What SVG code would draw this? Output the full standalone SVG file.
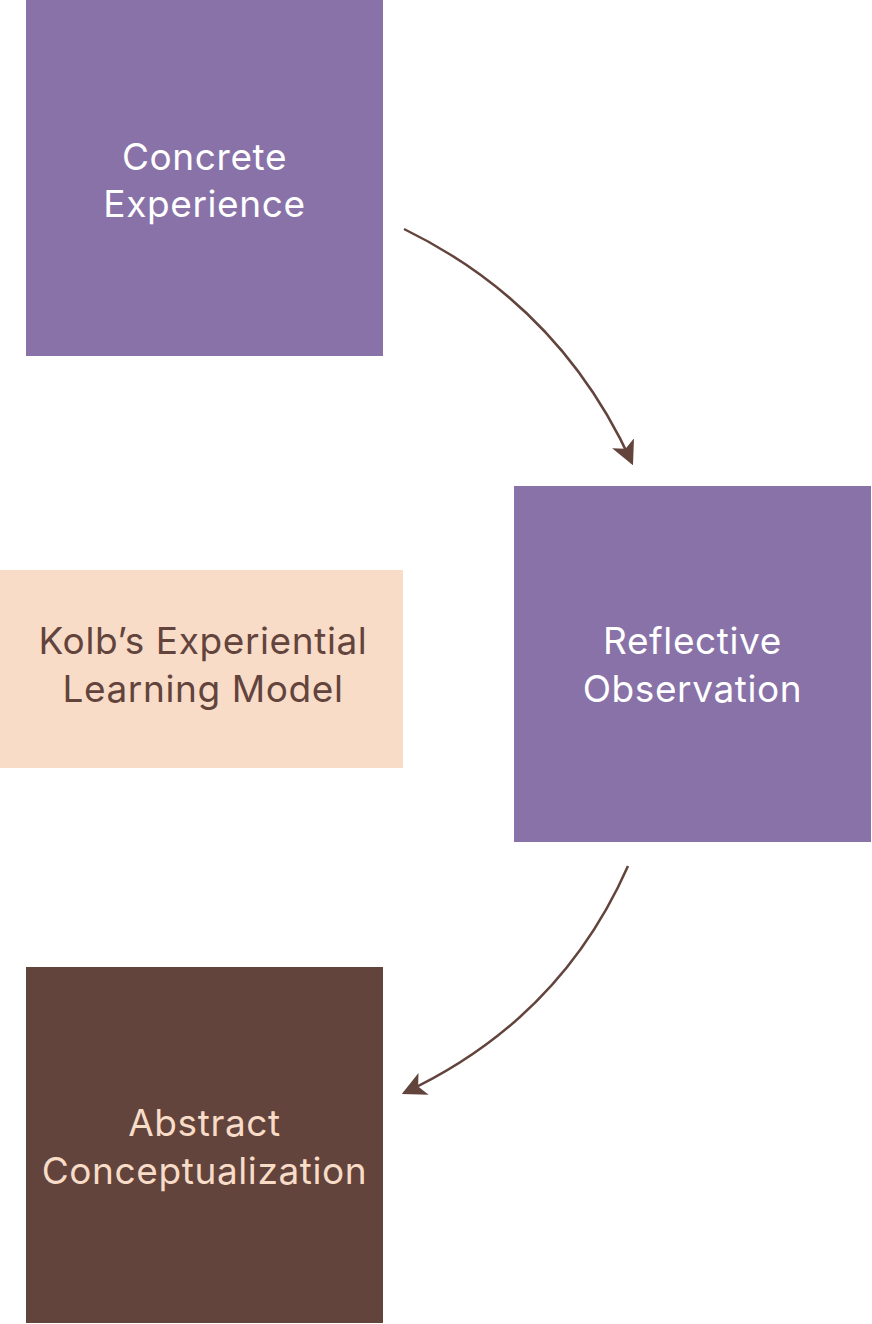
<svg xmlns="http://www.w3.org/2000/svg" width="872" height="1324" viewBox="0 0 872 1324">
<style>
.t{font-family:Inter,"Noto Sans","Liberation Sans",sans-serif;font-size:37px;letter-spacing:0.6px;text-anchor:middle}
.purple{fill:#8872A8}
.edge{fill:none;stroke:#62443C;stroke-width:2.5}
</style>
<defs>
<marker id="ah" viewBox="0 0 20 20" refX="18" refY="10" markerWidth="24" markerHeight="24" markerUnits="userSpaceOnUse" orient="auto">
<path d="M0,0 L20,10 L0,20 L5,10 Z" fill="#62443C"/>
</marker>
</defs>
<rect width="872" height="1324" fill="#fff"/>
<g id="concrete">
<rect class="purple" x="26" y="0" width="357" height="356"/>
<text class="t" fill="#fff" x="204.5" y="170">Concrete</text>
<text class="t" fill="#fff" x="204.5" y="217">Experience</text>
</g>
<g id="reflective">
<rect class="purple" x="514" y="486" width="357" height="356"/>
<text class="t" fill="#fff" x="692.5" y="654">Reflective</text>
<text class="t" fill="#fff" x="692.5" y="702">Observation</text>
</g>
<g id="kolb">
<rect x="0" y="570" width="403" height="198" fill="#F8DCC8"/>
<text class="t" fill="#62443C" x="203" y="654">Kolb’s Experiential</text>
<text class="t" fill="#62443C" x="203" y="702">Learning Model</text>
</g>
<g id="abstract">
<rect x="26" y="967" width="357" height="356" fill="#62443C"/>
<text class="t" fill="#F8DCC8" x="204.5" y="1136">Abstract</text>
<text class="t" fill="#F8DCC8" x="204.5" y="1184">Conceptualization</text>
</g>
<g id="connectors">
<path class="edge" d="M404,229 Q560,305 632,463" marker-end="url(#ah)"/>
<path class="edge" d="M628,866 Q560,1020 404,1093" marker-end="url(#ah)"/>
</g>
</svg>
